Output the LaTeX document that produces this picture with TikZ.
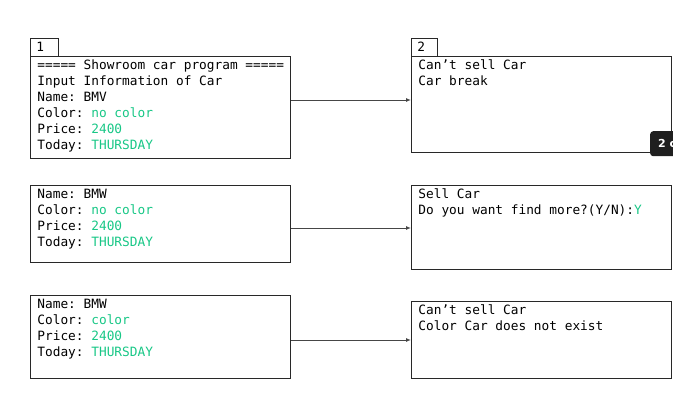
\documentclass[tikz,border=0pt]{standalone}
\usepackage{fontspec}
\setmonofont{DejaVu Sans Mono}
\newfontfamily\badgefont{DejaVu Sans}
\usepackage{tikz}
\usetikzlibrary{arrows.meta}

\definecolor{valgreen}{RGB}{24,199,134}
\definecolor{framegray}{RGB}{40,40,40}
\definecolor{linkgray}{RGB}{70,70,70}

\newcommand{\val}[1]{\textcolor{valgreen}{#1}}
\newcommand{\scrtext}[2]{\parbox[t][#1][t]{260pt}{\leftskip=7pt\rule{0pt}{12.8pt}#2}}

\tikzset{
	screen/.style={draw=framegray, line width=0.8pt, anchor=north west, inner sep=0pt,
		font=\ttfamily\fontsize{12.8}{16}\selectfont},
	tabbox/.style={draw=framegray, line width=0.8pt, anchor=south west, inner xsep=6pt,
		inner ysep=0pt, minimum height=18pt, text width=#1, align=left,
		font=\ttfamily\fontsize{12.8}{16}\selectfont},
	link/.style={draw=linkgray, line width=1pt, -{Latex[length=5pt,width=4pt]}},
	badge/.style={fill=black!88, rounded corners=3pt, anchor=north west, text=white,
		minimum width=40pt, minimum height=25pt, inner xsep=8pt, align=left,
		text width=24pt, font=\badgefont\bfseries\fontsize{11}{12}\selectfont}
}

\begin{document}
\begin{tikzpicture}[x=1pt, y=-1pt]
			\useasboundingbox (0, 0) rectangle (673, 405);
			\clip (0, 0) rectangle (673, 405);
			\coordinate (rowone) at (0, 100);
			\coordinate (rowtwo) at (0, 228);
			\coordinate (rowthree) at (0, 340);

			% first run
			\node[screen] (inone) at (30, 56) {\scrtext{102pt}{===== Showroom car program =====\\
				Input Information of Car\\
				Name: BMV\\
				Color: \val{no color}\\
				Price: \val{2400}\\
				Today: \val{THURSDAY}}};
			\node[tabbox=16pt] (tabone) at (30, 56.4) {1};
			\node[screen] (outone) at (411, 56) {\scrtext{96pt}{Can’t sell Car\\
				Car break}};
			\node[tabbox=14pt] (tabtwo) at (411, 56.4) {2};
			\node[badge] (note) at (650, 131) {2 c};

			% second run
			\node[screen] (intwo) at (30, 185) {\scrtext{77pt}{Name: BMW\\
				Color: \val{no color}\\
				Price: \val{2400}\\
				Today: \val{THURSDAY}}};
			\node[screen] (outtwo) at (411, 185) {\scrtext{84pt}{Sell Car\\
				Do you want find more?(Y/N):\val{Y}}};

			% third run
			\node[screen] (inthree) at (30, 295) {\scrtext{83pt}{Name: BMW\\
				Color: \val{color}\\
				Price: \val{2400}\\
				Today: \val{THURSDAY}}};
			\node[screen] (outthree) at (411, 301) {\scrtext{77pt}{Can’t sell Car\\
				Color Car does not exist}};

			\draw[link] (inone.east |- rowone) -- (outone.west |- rowone);
			\draw[link] (intwo.east |- rowtwo) -- (outtwo.west |- rowtwo);
			\draw[link] (inthree.east |- rowthree) -- (outthree.west |- rowthree);
\end{tikzpicture}
\end{document}
